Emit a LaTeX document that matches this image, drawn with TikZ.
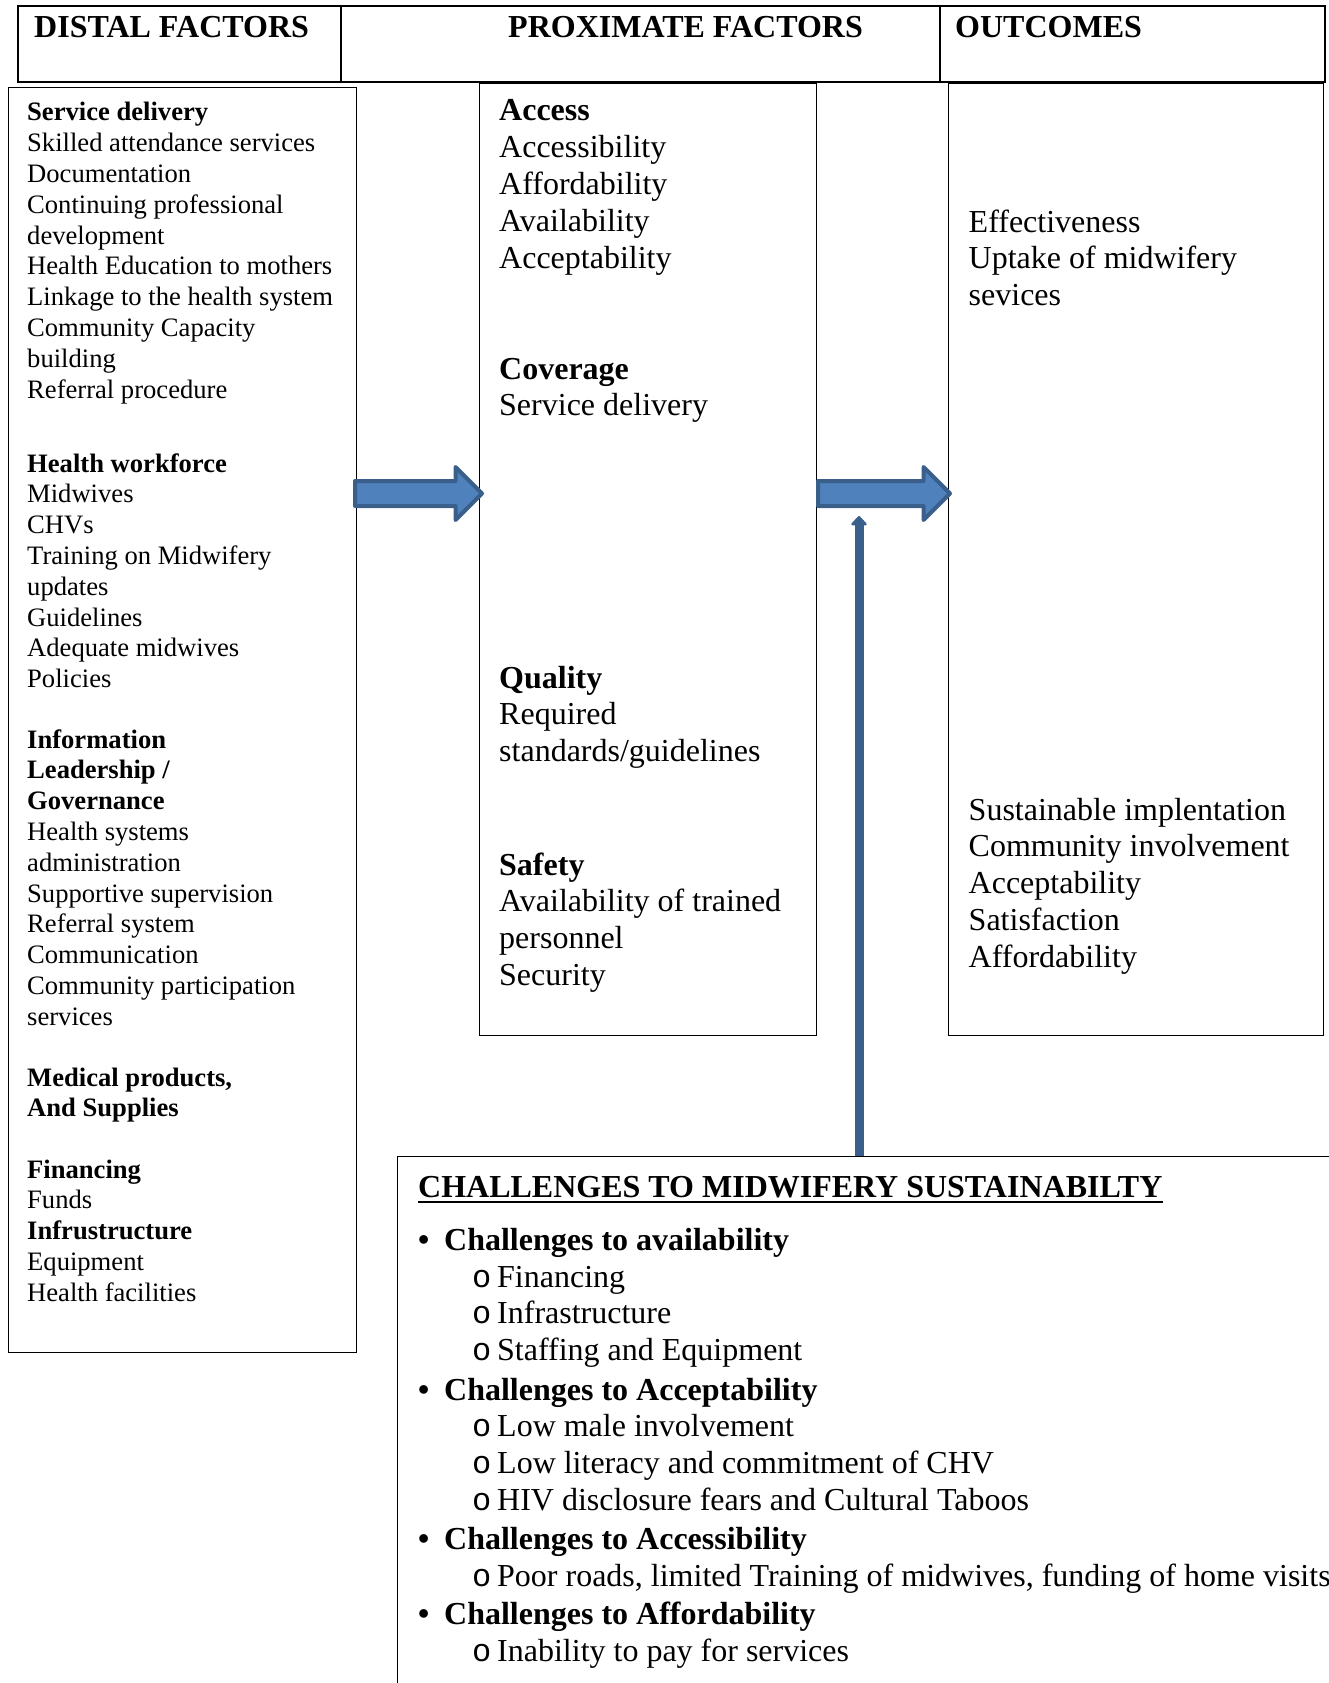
\documentclass[tikz,border=0pt]{standalone}
\usepackage{fontspec}
\setmainfont{Liberation Serif}
\newfontfamily\circfont{Liberation Mono}
\usetikzlibrary{shapes.arrows,arrows.meta}
\definecolor{arrowfill}{HTML}{4F81BD}
\definecolor{arrowline}{HTML}{3A5F8B}
\newcommand{\subbul}{\makebox[25pt][l]{\circfont o}}
\newcommand{\topbul}{\makebox[26pt][l]{\textbullet}}

\begin{document}
\begin{tikzpicture}[x=1pt, y=-1pt,
  box/.style={draw=black, line width=1.4pt, inner sep=0pt, anchor=north west},
  hdr/.style={anchor=base west, inner sep=0pt, font=\fontsize{32}{36.8}\selectfont\bfseries},
  small/.style={anchor=base west, inner sep=0pt, align=flush left, text width=600pt, font=\fontsize{26.6}{30.8}\selectfont},
  big/.style={anchor=base west, inner sep=0pt, align=flush left, text width=900pt, font=\fontsize{32}{36.8}\selectfont},
  blockarrow/.style={single arrow, draw=arrowline, fill=arrowfill, line width=4pt, line join=round,
    inner xsep=0pt, inner ysep=10.5pt, single arrow head extend=14pt, anchor=tail},
  uparrow/.style={draw=arrowline, line width=9pt, -{Triangle[width=18pt,length=10pt,round]}}]
\useasboundingbox (0,0) rectangle (1328,1683);

% Header row
\draw[line width=1.4pt] (18,6) rectangle (1325,82);
\draw[line width=1.4pt] (341,6) -- (341,82) (940,6) -- (940,82);
\node[hdr] (hdist) at (34,38) {DISTAL FACTORS};
\node[hdr] (hprox) at (508,38) {PROXIMATE FACTORS};
\node[hdr] (hout) at (955,38) {OUTCOMES};

% Boxes
\node[box, minimum width=348.5pt, minimum height=1265pt] (distal) at (7.5,87) {};
\node[box, minimum width=337pt, minimum height=952pt] (prox) at (479,83) {};
\node[box, minimum width=375pt, minimum height=952pt] (outc) at (948,83) {};
\node[box, minimum width=960pt, minimum height=560pt] (chal) at (397,1156) {};

% Distal factors
\node[small] (sdel) at (27,121) {\textbf{Service delivery}\\Skilled attendance services\\Documentation\\Continuing professional\\development\\Health Education to mothers\\Linkage to the health system\\Community Capacity\\building\\Referral procedure};
\node[small] (hwork) at (27,472) {\textbf{Health workforce}\\Midwives\\CHVs\\Training on Midwifery\\updates\\Guidelines\\Adequate midwives\\Policies};
\node[small] (info) at (27,748) {\textbf{Information}\\\textbf{Leadership /}\\\textbf{Governance}\\Health systems\\administration\\Supportive supervision\\Referral system\\Communication\\Community participation\\services};
\node[small] (med) at (27,1086) {\textbf{Medical products,}\\\textbf{And Supplies}};
\node[small] (fin) at (27,1178) {\textbf{Financing}\\Funds\\\textbf{Infrustructure}\\Equipment\\Health facilities};

% Proximate factors
\node[big] (acc) at (499,121) {\textbf{Access}\\Accessibility\\Affordability\\Availability\\Acceptability};
\node[big] (cov) at (499,379) {\textbf{Coverage}\\Service delivery};
\node[big] (qual) at (499,688) {\textbf{Quality}\\Required\\standards/guidelines};
\node[big] (saf) at (499,875) {\textbf{Safety}\\Availability of trained\\personnel\\Security};

% Outcomes
\node[big] (eff) at (968.5,232) {Effectiveness\\Uptake of midwifery\\sevices};
\node[big] (sust) at (968.5,820) {Sustainable implentation\\Community involvement\\Acceptability\\Satisfaction\\Affordability};

% Challenges
\node[hdr] (ctitle) at (418,1197) {CHALLENGES TO MIDWIFERY SUSTAINABILTY};
\draw[line width=2.5pt] ([yshift=-5pt]ctitle.base west) -- ([yshift=-5pt]ctitle.base east);
\node[hdr] (b1) at (418,1250) {\topbul Challenges to availability};
\node[big] (s1) at (472,1287) {\subbul Financing\\\subbul Infrastructure\\\subbul Staffing and Equipment};
\node[hdr] (b2) at (418,1400) {\topbul Challenges to Acceptability};
\node[big] (s2) at (472,1436.5) {\subbul Low male involvement\\\subbul Low literacy and commitment of CHV\\\subbul HIV disclosure fears and Cultural Taboos};
\node[hdr] (b3) at (418,1549) {\topbul Challenges to Accessibility};
\node[big] (s3) at (472,1586) {\subbul Poor roads, limited Training of midwives, funding of home visits};
\node[hdr] (b4) at (418,1624) {\topbul Challenges to Affordability};
\node[big] (s4) at (472,1661) {\subbul Inability to pay for services};

% Arrows
\node[blockarrow, minimum height=127pt] (arrA) at (353,493.5) {};
\node[blockarrow, minimum height=132pt] (arrB) at (816,493.5) {};
\coordinate (uptip) at (859,516);
\draw[uparrow] (uptip |- chal.north) -- (uptip);
\end{tikzpicture}
\end{document}
